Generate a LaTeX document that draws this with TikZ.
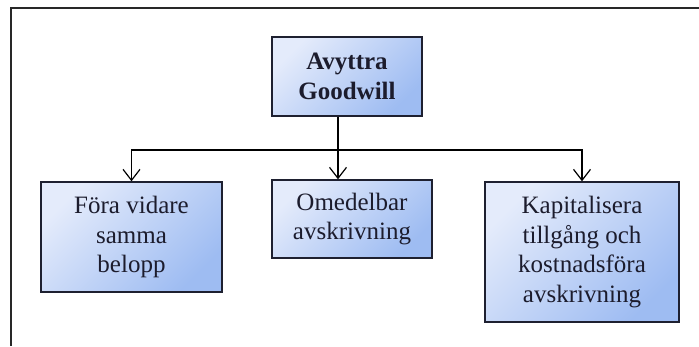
\documentclass[tikz,border=0pt]{standalone}
\usepackage{fontspec}
\setmainfont{Liberation Serif}
\usetikzlibrary{arrows.meta}
\definecolor{boxlight}{RGB}{228,235,251}
\definecolor{boxdark}{RGB}{158,188,242}
\definecolor{boxline}{RGB}{30,32,48}
\definecolor{txt}{RGB}{28,28,45}
\definecolor{frameline}{RGB}{40,40,40}
\tikzset{
  box/.style={draw=boxline, line width=1.4pt, rectangle, align=center,
    top color=boxlight, bottom color=boxdark, shading angle=45,
    text=txt, font=\fontsize{25}{29.5}\selectfont, inner sep=0pt},
  arr/.style={draw=black, line width=1.2pt, -{Straight Barb[length=11pt,width=17pt,line width=1.2pt]}},
  conn/.style={draw=black, line width=1.2pt},
}
\begin{document}
\begin{tikzpicture}[x=1pt,y=-1pt]
\useasboundingbox (0,0) rectangle (699,346);
\draw[frameline, line width=2pt] (11,346) -- (11,8) -- (699,8);
\node[box, minimum width=150pt, minimum height=79pt, font=\fontsize{25}{30}\selectfont\bfseries] (top) at (347,76.5) {Avyttra\\Goodwill};
\node[box, minimum width=181pt, minimum height=110pt] (left) at (131.5,237) {Föra vidare\\samma\\belopp};
\node[box, minimum width=160pt, minimum height=78pt] (mid) at (352,219) {Omedelbar\\avskrivning};
\node[box, minimum width=194pt, minimum height=140pt] (right) at (582,252) {Kapitalisera\\tillgång och\\kostnadsföra\\avskrivning};
\coordinate (hub) at (338,150);
\draw[arr] (top.south -| hub) -- (mid.north -| hub);
\draw[arr] (hub) -| (left.north);
\draw[arr] (hub) -| (right.north);
\end{tikzpicture}
\end{document}
